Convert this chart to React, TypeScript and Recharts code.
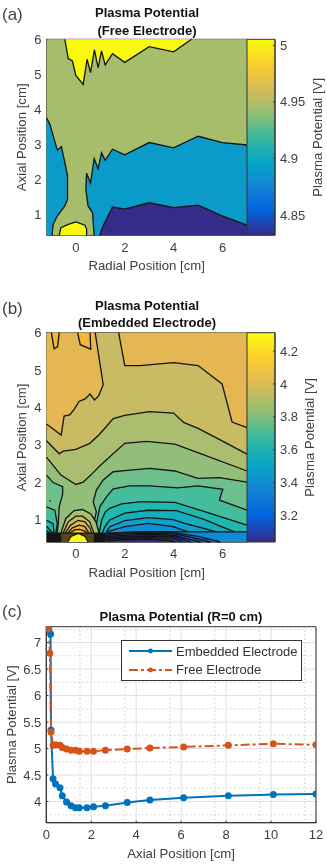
import React from 'react';
import {
  ScatterChart,
  Scatter,
  LineChart,
  Line,
  XAxis,
  YAxis,
  CartesianGrid,
  Legend,
  ReferenceArea,
} from 'recharts';

type Pt = [number, number];
type Region = { line: Pt[]; close: Pt[]; fill: string };

const FONT = '"Liberation Sans", Arial, sans-serif';
const TEXT = '#404040';
const BOX = '#333333';
const parula = ['#352a87', '#0363e1', '#1485d4', '#06a7c6', '#38b99e', '#92bf73', '#d9ba56', '#fcce2e', '#f9fb0e'];

// (a) free electrode contours
const freeTop: Pt[] = [[-0.45, 6], [-0.31, 5.45], [-0.14, 5.38], [0, 4.97], [0.3, 4.71], [0.46, 5.43], [0.6, 5.05], [0.76, 5.7], [0.91, 5.19], [1.05, 5.67], [1.2, 5.27], [1.5, 5.59], [2, 5.34], [3, 5.79], [4, 5.64], [4.73, 6]];
const freeBlueLeft: Pt[] = [[-1.2, 3.76], [-1.06, 3.57], [-0.76, 2.84], [-0.59, 2.93], [-0.45, 2.48], [-0.34, 2.1], [-0.34, 1.43], [-0.45, 1.24], [-0.76, 0.95], [-0.93, 0.71], [-0.97, 0.4]];
const freeBlueRight: Pt[] = [[0.75, 0.4], [0.68, 1.05], [0.5, 1.24], [0.41, 1.71], [0.44, 2.17], [0.6, 1.89], [0.75, 2.59], [0.91, 2.3], [1.05, 2.76], [1.2, 2.54], [1.5, 2.86], [2, 2.7], [3, 3.05], [4, 2.9], [5, 3.23], [6, 3.05], [7, 2.98]];
const freeDark: Pt[] = [[0.98, 0.4], [1.12, 0.67], [1.5, 1.21], [2, 1.15], [3, 1.33], [4, 1.19], [5, 1.26], [6, 0.95], [7, 0.69]];
const freeCore: Pt[] = [[-0.68, 0.4], [-0.61, 0.62], [-0.31, 0.71], [0, 0.78], [0.37, 0.69], [0.44, 0.57], [0.44, 0.4]];

const regionsA: Region[] = [
  { line: [], close: [[-1.2, 0.4], [-1.2, 6], [7, 6], [7, 0.4]], fill: '#a6bd6c' },
  { line: freeBlueLeft, close: [[-1.2, 0.4]], fill: '#0a9bcb' },
  { line: freeBlueRight, close: [[7, 0.4]], fill: '#0a9bcb' },
  { line: freeDark, close: [[7, 0.4]], fill: '#352c8a' },
  { line: freeCore, close: [], fill: '#f9f90f' },
  { line: freeTop, close: [], fill: '#f9f90f' },
];

// (b) embedded electrode contours, outermost level first
const embTopLeft: Pt[] = [[-1.2, 3.56], [-0.6, 3.26], [-0.48, 3.77], [-0.25, 3.8], [-0.07, 3.95], [0.13, 4.16], [0.38, 4.23], [0.58, 4.36], [0.76, 4.2], [0.93, 4.31], [1.12, 4.61], [0.79, 6]];
const embHoleA: Pt[] = [[-1.0, 6], [-0.89, 5.57], [-0.75, 5.62], [-0.68, 6]];
const embHoleB: Pt[] = [[0.07, 6], [0.18, 5.68], [0.61, 5.56], [0.58, 6]];
const embTopRight: Pt[] = [[1.75, 6], [2, 5.12], [2.62, 5.12], [4, 5.2], [5, 5.12], [5.98, 4.63], [6.39, 3.61], [7, 3.46]];
const embB: Pt[] = [[-1.2, 3.11], [-0.68, 2.76], [-0.52, 2.83], [0, 2.88], [0.57, 3.04], [0.95, 3.27], [1.53, 3.7], [2, 3.79], [3, 3.89], [4, 3.85], [4.41, 3.6], [5, 3.44], [6, 3.1], [7, 2.75]];
const embC: Pt[] = [[-1.2, 2.67], [-0.61, 2.19], [0, 1.94], [0.3, 2], [0.61, 2.19], [1.02, 2.46], [1.39, 2.68], [2, 3.04], [2.89, 3.09], [4.05, 3.02], [4.99, 2.79], [7, 2.3]];
const embDLeft: Pt[] = [[-1.2, 2.19], [-0.93, 1.99], [-0.54, 1.88], [-0.54, 1.68], [-0.68, 1.34], [-0.72, 0.89], [-0.76, 0.64]];
const embDRight: Pt[] = [[0.64, 0.64], [0.84, 1.21], [0.71, 1.47], [0.84, 1.79], [1.12, 2.06], [1.53, 2.28], [2, 2.31], [3.02, 2.37], [4.05, 2.3], [4.99, 2.1], [5.87, 2.12], [7, 2]];
const embELeft: Pt[] = [[-1.2, 1.34], [-0.86, 1.25], [-0.76, 0.89], [-0.82, 0.64]];
const embERight: Pt[] = [[0.78, 0.64], [0.87, 0.98], [0.98, 1.34], [1.25, 1.61], [1.53, 1.82], [2.2, 1.9], [3.02, 1.9], [4.17, 1.85], [4.99, 1.9], [6.01, 1.81], [5.87, 1.52], [7, 1.25]];
const embFLeft: Pt[] = [[-1.2, 0.98], [-0.93, 0.89], [-0.89, 0.64]];
const embFRight: Pt[] = [[0.95, 0.64], [1.05, 0.98], [1.2, 1.2], [1.39, 1.3], [1.87, 1.42], [2.68, 1.48], [4.05, 1.46], [5.14, 1.24], [7, 0.85]];
const embGLeft: Pt[] = [[-1.2, 0.82], [-0.95, 0.64]];
const embGRight: Pt[] = [[1.08, 0.64], [1.19, 0.81], [1.39, 0.99], [2, 1.17], [2.95, 1.25], [4.11, 1.24], [5.27, 1], [5.95, 0.81], [6.5, 0.67]];
const embHLeft: Pt[] = [[-1.2, 0.71], [-1.06, 0.64]];
const embHRight: Pt[] = [[1.25, 0.67], [1.39, 0.81], [2, 0.97], [2.95, 1.05], [3.98, 1], [4.45, 0.9], [5.27, 0.76], [5.75, 0.67]];
const embIRight: Pt[] = [[1.27, 0.67], [2, 0.81], [2.95, 0.9], [3.98, 0.81], [4.59, 0.67]];
const embFlat: Pt[] = [[-1.2, 0.64], [1.2, 0.64], [3, 0.68], [5, 0.67], [7, 0.67]];
const embK1: Pt[] = [[1.2, 0.62], [2, 0.66], [3, 0.67], [4, 0.65], [5, 0.55], [5.9, 0.4]];
const embK2: Pt[] = [[1.2, 0.58], [2, 0.62], [3, 0.64], [4, 0.62], [4.7, 0.53], [5.5, 0.4]];
const embK3: Pt[] = [[1.2, 0.54], [2, 0.58], [3, 0.6], [4, 0.58], [4.5, 0.5], [5.1, 0.4]];
const embK4: Pt[] = [[1.2, 0.5], [2, 0.54], [3, 0.56], [4, 0.54], [4.7, 0.4]];
const embK5: Pt[] = [[1.2, 0.47], [2, 0.5], [3, 0.52], [4, 0.49], [4.35, 0.4]];
const embK6: Pt[] = [[1.25, 0.43], [2, 0.46], [3, 0.48], [3.9, 0.43], [4.05, 0.4]];
const embDome1: Pt[] = [[-0.61, 0.64], [-0.41, 1.03], [-0.07, 1.24], [0.27, 1.27], [0.61, 1.15], [0.82, 0.94], [0.95, 0.64]];
const embDome2: Pt[] = [[-0.52, 0.64], [-0.31, 0.94], [0, 1.09], [0.27, 1.09], [0.57, 0.94], [0.74, 0.64]];
const embDome3: Pt[] = [[-0.44, 0.64], [-0.22, 0.85], [0.1, 0.98], [0.37, 0.94], [0.57, 0.78], [0.65, 0.64]];
const embDome4: Pt[] = [[-0.34, 0.64], [-0.14, 0.78], [0.14, 0.85], [0.37, 0.81], [0.54, 0.64]];
const embDome5: Pt[] = [[-0.25, 0.64], [-0.04, 0.73], [0.16, 0.74], [0.37, 0.69], [0.46, 0.64]];
const embCore: Pt[] = [[-0.33, 0.4], [-0.2, 0.55], [0.1, 0.63], [0.38, 0.55], [0.5, 0.4]];
const embBarLeft: Pt[] = [[-1.2, 0.4], [-1.2, 0.64], [-0.58, 0.64], [-0.58, 0.4]];
const embBarMid: Pt[] = [[-0.58, 0.4], [-0.58, 0.64], [0.72, 0.64], [0.72, 0.4]];
const embBarRight: Pt[] = [[0.72, 0.4], [0.72, 0.64], [1.2, 0.64], [1.2, 0.4]];
const embSpeck: Pt[] = [[-1.08, 1.5], [-1.02, 1.5]];

const regionsB: Region[] = [
  { line: [], close: [[-1.2, 0.4], [-1.2, 6], [7, 6], [7, 0.4]], fill: '#c8bb64' },
  { line: embTopLeft, close: [[-1.2, 6]], fill: '#e4b752' },
  { line: embHoleA, close: [], fill: '#efb83f' },
  { line: embHoleB, close: [], fill: '#efb83f' },
  { line: embTopRight, close: [[7, 6]], fill: '#e4b752' },
  { line: embB, close: [[7, 0.4], [-1.2, 0.4]], fill: '#abbd6f' },
  { line: embC, close: [[7, 0.4], [-1.2, 0.4]], fill: '#92be79' },
  { line: embDLeft, close: [[-1.2, 0.64]], fill: '#6dbf8b' },
  { line: embDRight, close: [[7, 0.64]], fill: '#6dbf8b' },
  { line: embELeft, close: [[-1.2, 0.64]], fill: '#45bd9c' },
  { line: embERight, close: [[7, 0.64]], fill: '#45bd9c' },
  { line: embFLeft, close: [[-1.2, 0.64]], fill: '#1fb8ae' },
  { line: embFRight, close: [[7, 0.64]], fill: '#1fb8ae' },
  { line: embGLeft, close: [[-1.2, 0.64]], fill: '#16aebd' },
  { line: embGRight, close: [], fill: '#16aebd' },
  { line: embHLeft, close: [[-1.2, 0.64]], fill: '#0fa0cb' },
  { line: embHRight, close: [], fill: '#0fa0cb' },
  { line: embIRight, close: [], fill: '#0e90d5' },
  { line: embDome1, close: [], fill: '#abbd6f' },
  { line: embDome2, close: [], fill: '#c8bb64' },
  { line: embDome3, close: [], fill: '#dcb957' },
  { line: embDome4, close: [], fill: '#edb945' },
  { line: embDome5, close: [], fill: '#f8c52e' },
  { line: [], close: [[1.2, 0.4], [1.2, 0.66], [7, 0.66], [7, 0.4]], fill: '#0e8ad8' },
  { line: embK1, close: [[1.2, 0.4]], fill: '#0f72dd' },
  { line: embK2, close: [[1.2, 0.4]], fill: '#1560d8' },
  { line: embK3, close: [[1.2, 0.4]], fill: '#1f50c8' },
  { line: embK4, close: [[1.2, 0.4]], fill: '#2640b0' },
  { line: embK5, close: [[1.2, 0.4]], fill: '#2d3598' },
  { line: embK6, close: [[1.25, 0.4]], fill: '#352a87' },
  { line: [], close: embBarMid, fill: '#5a4412' },
  { line: [], close: embBarLeft, fill: '#141414' },
  { line: [], close: embBarRight, fill: '#141414' },
  { line: embCore, close: [], fill: '#f9f90f' },
  { line: embFlat, close: [], fill: 'none' },
  { line: embSpeck, close: [], fill: 'none' },
];

// (c) plasma potential along R=0
const embeddedAxial = [0.12, 0.19, 0.21, 0.3, 0.41, 0.61, 0.71, 0.9, 1.1, 1.3, 1.47, 1.81, 2.1, 2.63, 3.6, 4.61, 6.11, 8.1, 10.1, 12];
const embeddedVolts = [7.25, 7.16, 5.35, 4.43, 4.33, 4.26, 4.11, 3.99, 3.92, 3.88, 3.88, 3.88, 3.9, 3.92, 3.98, 4.03, 4.07, 4.11, 4.13, 4.14];
const freeAxial = [0.1, 0.16, 0.21, 0.3, 0.41, 0.61, 0.71, 0.9, 1.1, 1.3, 1.47, 1.81, 2.1, 2.63, 3.6, 4.61, 6.11, 8.1, 10.1, 12];
const freeVolts = [7.26, 6.8, 5.31, 5.06, 5.07, 5.06, 5.02, 4.99, 4.97, 4.97, 4.95, 4.95, 4.95, 4.97, 4.99, 5.01, 5.03, 5.06, 5.09, 5.07];

const radialTicks = [0, 2, 4, 6];
const axialTicks = [1, 2, 3, 4, 5, 6];
const barTicksA = [4.85, 4.9, 4.95, 5];
const barTicksB = [3.2, 3.4, 3.6, 3.8, 4, 4.2];
const lineXTicks = [0, 2, 4, 6, 8, 10, 12];
const lineYTicks = [4, 4.5, 5, 5.5, 6, 6.5, 7];
const lineXMinor = [0.5, 1, 1.5, 2.5, 3, 3.5, 4.5, 5, 5.5, 6.5, 7, 7.5, 8.5, 9, 9.5, 10.5, 11, 11.5];
const lineYMinor = [3.75, 4.25, 4.75, 5.25, 5.75, 6.25, 6.75, 7.25];

const toXY = (p: Pt) => ({ x: p[0], y: p[1] });
const pathOf = (pts: { x: number; y: number }[]) => 'M' + pts.map(p => `${p.x},${p.y}`).join('L');
const noDot = () => <g />;
const tickStyle = { fill: TEXT, fontSize: 13, fontFamily: FONT };
const labelStyle = { fill: TEXT, fontSize: 13.2, fontFamily: FONT };

function ContourPanel({ regions, top, bottom, height }: { regions: Region[]; top: number; bottom: number; height: number }) {
  return (
    <div style={{ position: 'absolute', left: 0, top: 0 }}>
      <ScatterChart width={260} height={height} margin={{ top, left: 16.5, right: 13, bottom: height - bottom - 30 }}>
        <XAxis
          type="number"
          dataKey="x"
          domain={[-1.2, 7]}
          ticks={radialTicks}
          height={30}
          stroke={BOX}
          tick={tickStyle}
          tickSize={-2}
          tickMargin={9}
          label={{ value: 'Radial Position [cm]', position: 'insideBottom', offset: -5, style: labelStyle }}
        />
        <YAxis
          type="number"
          dataKey="y"
          domain={[0.4, 6]}
          ticks={axialTicks}
          width={30}
          stroke={BOX}
          tick={tickStyle}
          tickSize={-2}
          tickMargin={7}
          label={{ value: 'Axial Position [cm]', angle: -90, position: 'insideLeft', offset: 5, textAnchor: 'middle', style: labelStyle }}
        />
        {regions.map((r, i) => (
          <Scatter
            key={i}
            data={[...r.line, ...r.close].map(toXY)}
            isAnimationActive={false}
            shape={noDot}
            line={(p: any) => (
              <g>
                {r.fill !== 'none' && <path d={pathOf(p.points) + 'Z'} fill={r.fill} stroke="none" />}
                {r.line.length > 1 && (
                  <path d={pathOf(p.points.slice(0, r.line.length))} fill="none" stroke="#141414" strokeWidth={1.3} />
                )}
              </g>
            )}
          />
        ))}
        <ReferenceArea x1={-1.2} x2={7} y1={0.4} y2={6} fill="none" stroke={BOX} strokeWidth={1} />
      </ScatterChart>
    </div>
  );
}

function ColorBar({ id, domain, ticks, top, bottom, height, labelOffset }: { id: string; domain: number[]; ticks: number[]; top: number; bottom: number; height: number; labelOffset: number }) {
  return (
    <div style={{ position: 'absolute', left: 0, top: 0 }}>
      <ScatterChart width={327} height={height} margin={{ top, left: 247, right: 12, bottom: height - bottom }}>
        <defs>
          <linearGradient id={id} x1="0" y1="1" x2="0" y2="0">
            {parula.map((c, i) => (
              <stop key={c} offset={i / (parula.length - 1)} stopColor={c} />
            ))}
          </linearGradient>
        </defs>
        <XAxis type="number" dataKey="x" domain={[0, 1]} hide />
        <YAxis
          type="number"
          dataKey="y"
          orientation="right"
          domain={domain}
          ticks={ticks}
          width={40}
          stroke={BOX}
          tick={tickStyle}
          tickSize={-2}
          tickMargin={7}
          label={{ value: 'Plasma Potential [V]', angle: -90, position: 'insideRight', offset: labelOffset, textAnchor: 'middle', style: labelStyle }}
        />
        <ReferenceArea x1={0} x2={1} y1={domain[0]} y2={domain[1]} fill={`url(#${id})`} fillOpacity={1} stroke={BOX} strokeWidth={1} />
        <Scatter data={ticks.map(y => ({ x: 0.5, y }))} isAnimationActive={false} shape={noDot} />
      </ScatterChart>
    </div>
  );
}

function LegendBox({ payload }: any) {
  return (
    <div style={{ border: `1.3px solid ${BOX}`, background: '#fff', width: 179, height: 38, paddingTop: 1, boxSizing: 'content-box' }}>
      {(payload || []).map((item: any, i: number) => (
        <div key={item.value} style={{ display: 'flex', alignItems: 'center', height: 18.5, fontFamily: FONT, fontSize: 13, color: '#333', whiteSpace: 'nowrap' }}>
          <svg width={54} height={12} style={{ flex: 'none' }}>
            <line x1={7} x2={50} y1={6} y2={6} stroke={item.color} strokeWidth={2} strokeDasharray={i ? '9 3 3 3' : undefined} />
            <circle cx={28.5} cy={6} r={2.4} fill={item.color} />
          </svg>
          {item.value}
        </div>
      ))}
    </div>
  );
}

function ProfilePanel() {
  const embedded = embeddedAxial.map((x, i) => ({ x, y: embeddedVolts[i] }));
  const free = freeAxial.map((x, i) => ({ x, y: freeVolts[i] }));
  return (
    <div style={{ position: 'absolute', left: 0, top: 0 }}>
      <LineChart width={327} height={866} margin={{ top: 626.7, left: 16.3, right: 11, bottom: 13.3 }}>
        <CartesianGrid verticalValues={lineXMinor} horizontalValues={lineYMinor} stroke="#b5b5b5" strokeDasharray="1 3" />
        <CartesianGrid verticalValues={lineXTicks} horizontalValues={lineYTicks} stroke="#e1e1e1" />
        <XAxis
          type="number"
          dataKey="x"
          domain={[0, 12]}
          ticks={lineXTicks}
          allowDataOverflow
          height={30}
          stroke={BOX}
          tick={tickStyle}
          tickSize={-2}
          tickMargin={9}
          label={{ value: 'Axial Position [cm]', position: 'insideBottom', offset: -5, style: labelStyle }}
        />
        <YAxis
          type="number"
          dataKey="y"
          domain={[3.6, 7.3]}
          ticks={lineYTicks}
          allowDataOverflow
          width={30}
          stroke={BOX}
          tick={tickStyle}
          tickSize={-2}
          tickMargin={7}
          label={{ value: 'Plasma Potential [V]', angle: -90, position: 'insideLeft', offset: -5, textAnchor: 'middle', style: labelStyle }}
        />
        <ReferenceArea x1={0} x2={12} y1={3.6} y2={7.3} fill="none" stroke={BOX} strokeWidth={1} />
        <Line
          data={embedded}
          dataKey="y"
          name="Embedded Electrode"
          stroke="#0072bd"
          strokeWidth={2}
          dot={{ r: 2.5, fill: '#0072bd', stroke: '#0072bd' }}
          isAnimationActive={false}
        />
        <Line
          data={free}
          dataKey="y"
          name="Free Electrode"
          stroke="#d95319"
          strokeWidth={2}
          strokeDasharray="9 3 3 3"
          dot={{ r: 2.5, fill: '#d95319', stroke: '#d95319', strokeDasharray: '' }}
          isAnimationActive={false}
        />
        <Legend content={<LegendBox />} wrapperStyle={{ left: 121, top: 640, width: 181, height: 0 }} />
      </LineChart>
    </div>
  );
}

function Caption({ text, left, top, size, bold, width }: { text: string; left: number; top: number; size: number; bold?: boolean; width?: number }) {
  return (
    <div
      style={{
        position: 'absolute',
        left,
        top,
        width,
        textAlign: width ? 'center' : 'left',
        fontFamily: FONT,
        fontSize: size,
        fontWeight: bold ? 700 : 400,
        color: bold ? '#111' : '#444',
        lineHeight: 1,
        whiteSpace: 'nowrap',
      }}
    >
      {text}
    </div>
  );
}

export default function App() {
  return (
    <div style={{ position: 'absolute', left: 0, top: 0, width: 327, height: 866, background: '#fff', overflow: 'hidden', filter: 'blur(0.4px)' }}>
      <ContourPanel regions={regionsA} top={39.3} bottom={235.3} height={275} />
      <ColorBar id="parulaA" domain={[4.832, 5.0053]} ticks={barTicksA} top={39.3} bottom={235.3} height={275} labelOffset={-2} />
      <ContourPanel regions={regionsB} top={332.7} bottom={542} height={582} />
      <ColorBar id="parulaB" domain={[3.04, 4.311]} ticks={barTicksB} top={332.7} bottom={542} height={582} labelOffset={6} />
      <ProfilePanel />
      <Caption text="(a)" left={2} top={6} size={17} />
      <Caption text="(b)" left={2} top={300} size={17} />
      <Caption text="(c)" left={2} top={603} size={17} />
      <Caption text="Plasma Potential" left={47} width={200} top={6} size={13} bold />
      <Caption text="(Free Electrode)" left={47} width={200} top={24} size={13} bold />
      <Caption text="Plasma Potential" left={47} width={200} top={299} size={13} bold />
      <Caption text="(Embedded Electrode)" left={47} width={200} top={316} size={13} bold />
      <Caption text="Plasma Potential (R=0 cm)" left={46} width={270} top={610} size={13} bold />
    </div>
  );
}
